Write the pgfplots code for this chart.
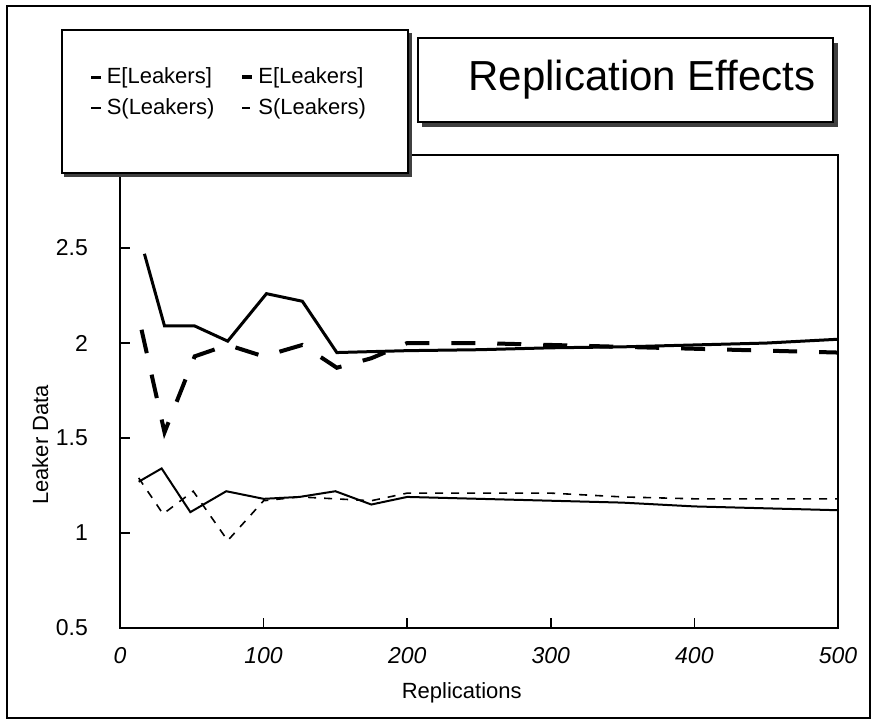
\documentclass[border=0pt]{standalone}
\usepackage{pgfplots}
\pgfplotsset{compat=1.18}
\usepackage{fontspec}
\setmainfont{Liberation Sans}
\begin{document}
\begin{tikzpicture}
\useasboundingbox (0,0) rectangle (442.5pt,362.5pt);
% outer frame
\draw[line width=1.2pt] (3.5pt,3.5pt) rectangle (435pt,359.5pt);
% title box with shadow
\draw[line width=2pt, black!75] (211pt,299.8pt) -- (418.2pt,299.8pt) -- (418.2pt,341pt);
\draw[line width=0.8pt, fill=white] (209pt,301.5pt) rectangle (416.5pt,343.5pt);
\node[font=\fontsize{21}{24}\selectfont] at (321pt,322.5pt) {Replication Effects};
\begin{axis}[
  at={(60pt,48.5pt)}, anchor=south west,
  scale only axis, width=359pt, height=236.5pt,
  xmin=0, xmax=500, ymin=0.5, ymax=2.99,
  xtick={0,100,200,300,400,500},
  ytick={0.5,1,1.5,2,2.5},
  /pgf/number format/assume math mode=true,
  tick align=inside, xtick pos=bottom, ytick pos=left,
  major tick length=5pt,
  tick style={line width=0.8pt, black},
  axis line style={line width=1pt},
  xticklabel style={font=\itshape\fontsize{11.5}{13}\selectfont, yshift=-6pt},
  yticklabel style={font=\fontsize{11.5}{13}\selectfont, xshift=-12.5pt},
  xlabel={Replications}, ylabel={Leaker Data},
  xlabel style={font=\fontsize{11}{13}\selectfont, at={(axis description cs:0.476,-0.137)}, anchor=center},
  ylabel style={font=\fontsize{11}{13}\selectfont, at={(axis description cs:-0.111,0.387)}, anchor=center},
  clip=false,
  legend columns=2,
  legend cell align=left,
  legend style={at={(0.153,1.132)}, anchor=center, draw=none, fill=none,
    font=\fontsize{11}{13}\selectfont, row sep=2pt,
    /tikz/every even column/.append style={column sep=11pt}},
  legend image code/.code={\draw[#1] (0pt,0pt) -- (5pt,0pt);},
]
\addplot[black, line width=1.5pt] coordinates {
(17,2.47) (31,2.09) (52,2.09) (75,2.01) (102,2.26) (127,2.22) (151,1.95)
(200,1.96) (250,1.965) (300,1.975) (350,1.98) (400,1.99) (450,2.0) (500,2.02)};
\addlegendentry{E[Leakers]}
\addplot[black, line width=2pt, dash pattern=on 12pt off 11pt] coordinates {
(15,2.07) (31,1.53) (52,1.93) (75,1.99) (100,1.93) (127,1.99) (151,1.87) (175,1.92)
(200,2.0) (250,2.0) (300,1.99) (350,1.98) (400,1.97) (450,1.96) (500,1.95)};
\addlegendentry{E[Leakers]}
\addplot[black, line width=1pt] coordinates {
(13,1.27) (29,1.34) (49,1.11) (74,1.22) (100,1.18) (125,1.19) (150,1.22) (175,1.15)
(200,1.19) (250,1.18) (300,1.17) (350,1.16) (400,1.14) (450,1.13) (500,1.12)};
\addlegendentry{S(Leakers)}
\addplot[black, line width=0.8pt, dash pattern=on 4pt off 4pt] coordinates {
(13,1.29) (30,1.10) (51,1.22) (75,0.96) (100,1.17) (125,1.19) (150,1.18) (175,1.17)
(200,1.21) (250,1.21) (300,1.21) (350,1.19) (400,1.18) (450,1.18) (500,1.18)};
\addlegendentry{S(Leakers)}
% legend box with shadow
\draw[line width=2pt, black!75] (axis description cs:-0.0780,0.9577) -- (axis description cs:0.4038,0.9577) -- (axis description cs:0.4038,1.258);
\draw[line width=0.8pt, fill=white] (axis description cs:-0.0808,0.9619) rectangle (axis description cs:0.401,1.2643);
\end{axis}
\end{tikzpicture}
\end{document}
